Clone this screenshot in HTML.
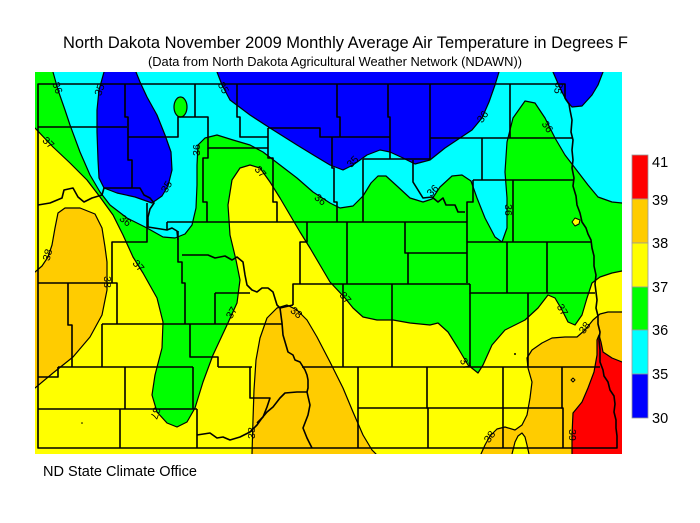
<!DOCTYPE html>
<html><head><meta charset="utf-8"><style>html,body{margin:0;padding:0;background:#fff}svg{display:block}</style></head>
<body>
<svg width="700" height="523" viewBox="0 0 700 523" xmlns="http://www.w3.org/2000/svg" font-family="Liberation Sans, Arial, sans-serif">
<defs><clipPath id="fr"><rect x="35" y="72" width="587" height="382"/></clipPath></defs>
<rect width="700" height="523" fill="#fff"/>
<text x="63" y="48" font-size="17" textLength="565" lengthAdjust="spacingAndGlyphs" fill="#000">North Dakota November 2009 Monthly Average Air Temperature in Degrees F</text>
<text x="148" y="66" font-size="12.5" textLength="374" lengthAdjust="spacingAndGlyphs" fill="#000">(Data from North Dakota Agricultural Weather Network (NDAWN))</text>
<g clip-path="url(#fr)" stroke="#000" stroke-width="1.2" stroke-linejoin="round">
<rect x="35" y="72" width="587" height="382" fill="#ffff00" stroke="none"/>
<path fill="#00ff00" d="M30,66 L30,128 L35,128 L53,147 L70,163 L87,180 L100,197 L113,215 L123,235 L133,257 L143,273 L157,298 L163,322 L162,348 L155,375 L152,395 L157,412 L167,423 L177,427 L187,422 L195,408 L203,382 L213,355 L227,325 L237,303 L240,280 L236,260 L230,235 L228,205 L232,180 L240,168 L250,165 L260,168 L270,182 L280,198 L290,215 L300,232 L310,248 L320,265 L330,282 L345,298 L353,308 L363,317 L377,320 L393,320 L410,323 L430,325 L438,323 L448,332 L458,348 L468,365 L478,373 L483,365 L492,345 L505,330 L525,320 L538,308 L548,295 L555,298 L562,310 L568,322 L575,325 L582,315 L587,298 L592,283 L600,277 L612,273 L622,271 L630,271 L630,66 Z"/>
<path fill="#00ffff" d="M53,66 L53,72 L58,90 L65,110 L70,125 L80,152 L90,175 L100,192 L110,205 L127,218 L147,228 L163,237 L175,238 L185,234 L192,225 L196,208 L197,185 L197,165 L198,145 L205,138 L217,135 L233,140 L250,145 L263,152 L280,165 L297,178 L313,192 L330,203 L340,208 L353,206 L363,196 L371,183 L378,176 L386,176 L397,186 L410,198 L423,202 L432,199 L440,187 L452,176 L462,175 L471,181 L477,198 L485,218 L495,237 L502,242 L507,228 L507,198 L505,172 L507,142 L513,118 L525,101 L535,103 L545,118 L555,138 L565,155 L575,168 L588,185 L598,197 L612,202 L622,203 L630,203 L630,66 Z"/>
<ellipse cx="180.5" cy="107" rx="6.5" ry="10" fill="#00ff00"/>
<path fill="#0000ff" d="M104,66 L104,72 L99,90 L97,110 L97,132 L98,160 L99,178 L104,188 L117,193 L135,197 L152,203 L162,196 L168,186 L172,170 L171,152 L165,135 L157,115 L147,97 L140,82 L136,72 L136,66 Z"/>
<path fill="#0000ff" d="M217,66 L217,72 L222,85 L230,100 L250,115 L270,128 L297,145 L315,156 L330,165 L343,170 L353,165 L367,155 L380,150 L390,152 L403,158 L415,164 L430,160 L445,148 L460,138 L472,130 L482,118 L489,102 L495,85 L499,72 L499,66 Z"/>
<path fill="#0000ff" d="M553,66 L553,72 L560,88 L566,100 L572,107 L582,106 L592,95 L598,85 L603,72 L603,66 Z"/>
<path fill="#ffcc00" d="M30,272 L35,272 L42,266 L48,257 L52,245 L55,228 L58,213 L65,208 L80,208 L95,214 L102,228 L105,247 L107,262 L107,290 L102,315 L90,337 L73,357 L53,373 L35,388 L30,390 Z"/>
<path fill="#ffcc00" d="M252,460 L252,454 L253,420 L254,390 L256,360 L260,338 L267,318 L277,308 L287,305 L297,310 L307,320 L317,337 L330,362 L343,388 L353,412 L363,435 L372,450 L376,454 L378,460 Z"/>
<path fill="#ffcc00" d="M480,460 L481,454 L485,445 L490,436 L497,429 L505,427 L515,430 L522,425 L527,415 L530,398 L532,382 L528,368 L527,358 L532,350 L542,343 L552,338 L565,337 L577,337 L585,330 L593,320 L600,314 L608,312 L622,312 L630,312 L630,460 Z"/>
<path fill="#ffff00" d="M511,460 L512,454 L515,442 L518,436 L522,433 L525,437 L527,445 L529,454 L530,460 Z"/>
<path fill="#ff0000" d="M572,460 L572,435 L573,413 L582,402 L588,388 L594,372 L597,355 L597,340 L599,335 L601,342 L603,352 L612,358 L622,362 L630,362 L630,460 Z"/>
<path fill="#ffff00" stroke-width="1" d="M572,222 L575,218 L580,220 L579,224 L575,226 Z"/>
<path fill="none" stroke-width="1" d="M571,380 L573,378 L575,380 L573,382 Z"/>
<circle cx="515" cy="354" r="1" fill="#000" stroke="none"/>
<circle cx="82" cy="423" r="0.8" fill="#000" stroke="none"/>
</g>
<g fill="none" stroke="#000" stroke-width="1.6" stroke-linejoin="round">
<path d="M38,84 L565,84 L565,98 L569,104 L570,110 L572,120 L571,132 L573,140 L572,150 L573,160 L572,168 L574,178 L573,186 L576,196 L577,205 L580,213 L582,222 L586,228 L588,234 L591,240 L592,248 L594,256 L594,266 L596,275 L595,284 L596,292 L597,300 L596,308 L598,316 L598,324 L600,332 L599,340 L600,350 L600,362 L603,370 L604,376 L608,382 L610,390 L614,396 L615,404 L614,412 L616,420 L616,428 L617,436 L617,448 L38,448 Z"/>
<path d="M38,127 H127"/>
<path d="M125,84 V117 H128 V160 H132 V188"/>
<path d="M128,137 H178 V117 H208 V148 H268"/>
<path d="M195,84 V117"/>
<path d="M237,84 V117 H240 V137 H268"/>
<path d="M268,128 V158 H273 V202 H277 V222"/>
<path d="M268,128 H320 V137 H390"/>
<path d="M337,84 V117 H340 V137"/>
<path d="M332,137 V168 H334 V202 H337 V222"/>
<path d="M388,84 V117 H390 V159"/>
<path d="M363,159 H430"/>
<path d="M363,159 V222"/>
<path d="M430,84 V159"/>
<path d="M430,138 H572"/>
<path d="M510,84 V138"/>
<path d="M482,138 V180"/>
<path d="M473,180 H573"/>
<path d="M413,160 V182 L423,198 L432,197 L438,202 L443,198 L446,205 L455,205 L458,212 L465,212"/>
<path d="M473,180 V202 H467 V283"/>
<path d="M513,180 V242"/>
<path d="M467,242 H592"/>
<path d="M167,222 H467"/>
<path d="M507,242 V293 M547,242 V293"/>
<path d="M408,253 H467"/>
<path d="M307,222 V242 H300 V284"/>
<path d="M293,305 V284 H470"/>
<path d="M347,222 V284"/>
<path d="M405,222 V253 H408 V284"/>
<path d="M470,284 V293 H595"/>
<path d="M470,293 V367"/>
<path d="M528,293 V367"/>
<path d="M392,284 V367"/>
<path d="M343,284 V367"/>
<path d="M218,367 H252 M302,367 H600"/>
<path d="M358,367 V448 M427,367 V408 H428 V448 M503,367 V448 M562,367 V408 H563 V448"/>
<path d="M358,408 H563"/>
<path d="M38,205 L50,203 L62,198 L64,190 L73,188 L78,197 L84,202 L92,198 L102,195 L104,188 L140,188 L144,195 L150,198 L154,203 L150,209 L148,217 L148,227 L167,230 L172,228 L177,231 L178,240"/>
<path d="M147,203 V242 H112 V283"/>
<path d="M178,231 V262 H182 V283 H185 V324"/>
<path d="M167,222 V230"/>
<path d="M182,255 L208,255 L215,258 L225,256 L232,260 L237,257 L243,262 L245,275 L247,285 L252,290 L257,292 L262,288 L268,288 L273,292 L277,305 L280,308 L282,323 L283,335 L288,352 L293,355 L295,360 L300,362 L305,370 L307,375 L308,380 L308,388 L307,392 L310,405 L308,415 L303,428 L307,438 L312,448"/>
<path d="M280,308 L293,305"/>
<path d="M207,222 V202 H203 V158 H208 V148"/>
<path d="M38,283 H117 V324"/>
<path d="M68,283 V325 H72 V367"/>
<path d="M102,324 H282"/>
<path d="M102,324 V367"/>
<path d="M58,367 H193 M38,377 H58 V367"/>
<path d="M125,367 V409"/>
<path d="M38,409 H197 M120,409 V448 M197,409 V448"/>
<path d="M193,367 V409"/>
<path d="M190,324 V357 H218 V367"/>
<path d="M215,293 V324 M215,293 H250"/>
<path d="M250,367 V398 H270 L267,407 L263,417 L257,423"/>
<path d="M197,435 L210,433 L217,438 L223,437 L230,440 L240,437 L250,432 L257,425 L262,418 L267,412 L273,407 L280,398 L285,393 L297,392 L307,392"/>
</g>
<g font-size="10.5" fill="#000" text-anchor="middle" dominant-baseline="central">
<text transform="translate(57,88) rotate(70)">36</text>
<text transform="translate(100,90) rotate(-70)">35</text>
<text transform="translate(223,88) rotate(60)">35</text>
<text transform="translate(48,143) rotate(45)">37</text>
<text transform="translate(197,150) rotate(-90)">36</text>
<text transform="translate(260,172) rotate(50)">37</text>
<text transform="translate(320,200) rotate(40)">36</text>
<text transform="translate(125,221) rotate(40)">36</text>
<text transform="translate(167,187) rotate(-60)">35</text>
<text transform="translate(48,255) rotate(-75)">38</text>
<text transform="translate(353,162) rotate(-45)">35</text>
<text transform="translate(483,117) rotate(-55)">36</text>
<text transform="translate(547,127) rotate(55)">36</text>
<text transform="translate(558,88) rotate(100)">35</text>
<text transform="translate(433,191) rotate(-45)">36</text>
<text transform="translate(508,210) rotate(90)">36</text>
<text transform="translate(107,282) rotate(90)">38</text>
<text transform="translate(138,266) rotate(50)">37</text>
<text transform="translate(232,313) rotate(-60)">37</text>
<text transform="translate(155,413) rotate(110)">37</text>
<text transform="translate(296,313) rotate(40)">38</text>
<text transform="translate(252,433) rotate(-90)">38</text>
<text transform="translate(345,298) rotate(50)">37</text>
<text transform="translate(465,364) rotate(60)">37</text>
<text transform="translate(562,310) rotate(60)">37</text>
<text transform="translate(585,328) rotate(-55)">38</text>
<text transform="translate(490,437) rotate(-55)">38</text>
<text transform="translate(572,435) rotate(90)">39</text>
</g>
<g stroke="#999" stroke-width="0.8">
<rect x="632" y="155" width="16" height="44" fill="#ff0000"/>
<rect x="632" y="199" width="16" height="44" fill="#ffcc00"/>
<rect x="632" y="243" width="16" height="44" fill="#ffff00"/>
<rect x="632" y="287" width="16" height="43" fill="#00ff00"/>
<rect x="632" y="330" width="16" height="44" fill="#00ffff"/>
<rect x="632" y="374" width="16" height="44" fill="#0000ff"/>
</g>
<g font-size="14.5" fill="#000">
<text x="652" y="167">41</text>
<text x="652" y="205">39</text>
<text x="652" y="248">38</text>
<text x="652" y="292">37</text>
<text x="652" y="335">36</text>
<text x="652" y="379">35</text>
<text x="652" y="423">30</text>
</g>
<text x="43" y="476" font-size="14.5" textLength="154" lengthAdjust="spacingAndGlyphs" fill="#000">ND State Climate Office</text>
</svg>
</body></html>
